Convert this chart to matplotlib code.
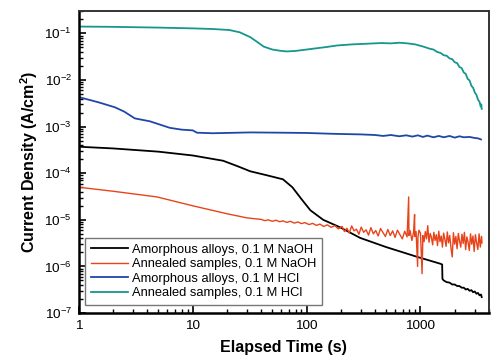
import numpy as np
import matplotlib.pyplot as plt
from matplotlib.ticker import LogLocator, FixedLocator, FixedFormatter, NullFormatter

plt.rcParams['font.family'] = ['Liberation Sans', 'DejaVu Sans']
plt.rcParams['mathtext.fontset'] = 'custom'
plt.rcParams['mathtext.rm'] = 'Liberation Sans'
plt.rcParams['mathtext.it'] = 'Liberation Sans'
plt.rcParams['mathtext.default'] = 'regular'

# Amorphous alloys, 0.1 M NaOH
t_am_naoh = [1, 2, 5, 10, 18.5, 25, 32, 45, 62, 75, 90, 108, 140, 197, 295, 500,
             940, 1500, 1550, 1560, 1600, 1700, 1800, 1900, 2000, 2100, 2200,
             2300, 2400, 2500, 2600, 2700, 2800, 2900, 3000, 3100, 3200, 3300,
             3400, 3450]
j_am_naoh = [3.7e-4, 3.4e-4, 2.9e-4, 2.4e-4, 1.85e-4, 1.4e-4, 1.1e-4, 9e-5,
             7.4e-5, 5e-5, 2.8e-5, 1.6e-5, 1.0e-5, 6.9e-6, 4.1e-6, 2.6e-6,
             1.6e-6, 1.14e-6, 1.1e-6, 5.4e-7, 5.0e-7, 4.6e-7, 4.5e-7, 4.1e-7,
             4.1e-7, 3.8e-7, 3.8e-7, 3.5e-7, 3.5e-7, 3.2e-7, 3.3e-7, 3.0e-7,
             3.1e-7, 2.8e-7, 2.9e-7, 2.6e-7, 2.7e-7, 2.4e-7, 2.5e-7, 2.2e-7]

# Annealed samples, 0.1 M NaOH (values in 1e-6 A/cm2)
t_an_naoh = [1, 2, 4.85, 10, 20, 30, 40, 43, 46, 50, 54, 58, 62, 67, 72, 78, 84,
             90, 97, 105, 113, 122, 131, 141, 152, 164, 177, 190,
             205, 215, 226, 237, 249, 261, 274, 288, 302, 317, 333, 350, 367,
             386, 405, 425, 446, 469, 492, 517, 543, 570, 598, 628, 660, 693,
             727, 763, 788, 792, 810, 841, 870, 888, 892, 915, 944, 950, 970,
             1000, 1033, 1050, 1076, 1103, 1131, 1159, 1188, 1218, 1248, 1279,
             1311, 1344, 1378, 1412, 1448, 1484, 1521, 1559, 1598, 1638, 1679,
             1721, 1764, 1808, 1853, 1900, 1947, 1996, 2046, 2097, 2150, 2203,
             2258, 2315, 2373, 2432, 2493, 2555, 2619, 2684, 2752, 2820, 2891,
             2963, 3037, 3113, 3191, 3271, 3353, 3437, 3470]
j_an_naoh = [50, 41, 31, 20, 13.5, 11, 10.2, 9.6, 10.0, 9.3, 9.8, 9.1, 9.5, 8.8,
             9.3, 8.5, 9.0, 8.3, 8.7, 7.9, 8.4, 7.6, 8.1, 7.2, 7.8, 6.9, 7.5, 6.4,
             7.2, 5.6, 6.6, 5.2, 7.4, 5.8, 6.3, 4.9, 7.0, 5.4, 6.1, 4.7, 6.8,
             5.0, 5.9, 4.5, 6.5, 5.3, 4.4, 6.2, 4.6, 5.8, 4.2, 6.0, 4.8, 3.9,
             5.7, 4.3, 31, 4.6, 5.9, 3.6, 5.4, 13, 4.4, 5.6, 1.0, 4.2, 6.0,
             5.2, 0.7, 4.6, 3.4, 5.6, 3.9, 7.5, 3.3, 5.1, 4.2, 2.9,
             5.4, 3.6, 4.8, 2.8, 5.7, 3.4, 4.5, 2.6, 5.2, 3.8, 2.7,
             5.5, 3.2, 4.6, 2.5, 1.6, 5.3, 3.0, 4.4, 2.4, 5.1, 3.5,
             2.6, 4.9, 3.1, 5.4, 2.3, 4.3, 3.3, 2.2, 5.0, 3.0, 4.5,
             2.1, 4.8, 3.2, 2.3, 5.0, 2.6, 4.4, 3.2]

# Amorphous alloys, 0.1 M HCl (values in 1e-3 A/cm2)
t_am_hcl = [1, 1.5, 2.07, 2.5, 3.1, 4.2, 6.3, 8, 10, 10.9, 15, 32, 60, 100, 171,
            300, 400, 470, 550, 650, 750, 850, 950, 1050, 1150, 1300, 1450,
            1600, 1800, 2000, 2200, 2400, 2700, 3000, 3200, 3400]
j_am_hcl = [4.3, 3.3, 2.6, 2.1, 1.5, 1.3, 0.94, 0.86, 0.83, 0.74, 0.72, 0.75,
            0.74, 0.73, 0.70, 0.68, 0.66, 0.63, 0.66, 0.62, 0.65, 0.61, 0.65,
            0.60, 0.64, 0.59, 0.63, 0.59, 0.63, 0.58, 0.62, 0.59, 0.60, 0.57,
            0.56, 0.53]

# Annealed samples, 0.1 M HCl
t_an_hcl = [1, 2, 5, 10, 15, 21, 26, 32, 37, 42, 50, 60, 67, 80, 100, 123, 150,
            185, 250, 340, 450, 550, 650, 770, 900, 1060, 1200, 1300, 1400, 1500,
            1600, 1700, 1800, 1900, 2000, 2100, 2200, 2300, 2400, 2500, 2600,
            2700, 2800, 2900, 3000, 3100, 3200, 3300, 3380, 3420, 3450]
j_an_hcl = [0.140, 0.138, 0.133, 0.128, 0.124, 0.118, 0.105, 0.083, 0.065,
            0.052, 0.045, 0.042, 0.041, 0.042, 0.045, 0.048, 0.051, 0.055,
            0.058, 0.060, 0.062, 0.061, 0.063, 0.061, 0.058, 0.052, 0.047,
            0.045, 0.040, 0.038, 0.034, 0.033, 0.029, 0.028, 0.024, 0.023,
            0.019, 0.018, 0.0145, 0.0135, 0.0105, 0.0098, 0.0075, 0.0068,
            0.0054, 0.0048, 0.0038, 0.0034, 0.0027, 0.0030, 0.0024]

fig = plt.figure(figsize=(4.99, 3.59), dpi=100)
ax = fig.add_axes([0.158, 0.128, 0.822, 0.841])

ax.plot(t_am_naoh, j_am_naoh, color='black', lw=1.3, label='Amorphous alloys, 0.1 M NaOH')
ax.plot(t_an_naoh, np.array(j_an_naoh) * 1e-6, color='#e8441c', lw=1.0,
        label='Annealed samples, 0.1 M NaOH')
ax.plot(t_am_hcl, np.array(j_am_hcl) * 1e-3, color='#1f47a8', lw=1.3,
        label='Amorphous alloys, 0.1 M HCl')
ax.plot(t_an_hcl, j_an_hcl, color='#16968c', lw=1.3, label='Annealed samples, 0.1 M HCl')

ax.set_xscale('log')
ax.set_yscale('log')
ax.set_xlim(1, 4000)
ax.set_ylim(1e-7, 0.3)

ax.xaxis.set_major_locator(FixedLocator([1, 10, 100, 1000]))
ax.xaxis.set_major_formatter(FixedFormatter(['1', '10', '100', '1000']))
ax.xaxis.set_minor_locator(LogLocator(base=10, subs=np.arange(2, 10)))
ax.xaxis.set_minor_formatter(NullFormatter())
ax.yaxis.set_major_locator(FixedLocator([1e-7, 1e-6, 1e-5, 1e-4, 1e-3, 1e-2, 1e-1]))
ax.yaxis.set_major_formatter(FixedFormatter(['10$^{-7}$', '10$^{-6}$', '10$^{-5}$',
                                             '10$^{-4}$', '10$^{-3}$', '10$^{-2}$',
                                             '10$^{-1}$']))
ax.yaxis.set_minor_locator(LogLocator(base=10, subs=np.arange(2, 10)))
ax.yaxis.set_minor_formatter(NullFormatter())

ax.tick_params(which='major', direction='in', length=5, width=1.2, labelsize=9.7, pad=5)
ax.tick_params(which='minor', direction='in', length=3, width=1)
ax.tick_params(top=False, right=False)

for s in ['left', 'bottom']:
    ax.spines[s].set_linewidth(1.8)
for s in ['top', 'right']:
    ax.spines[s].set_linewidth(1.4)
    ax.spines[s].set_color('#333333')

ax.set_xlabel('Elapsed Time (s)', fontsize=11.5, fontweight='bold', labelpad=6)
ax.set_ylabel('Current Density (A/cm$^{2}$)', fontsize=11.5, fontweight='bold', labelpad=3)

leg = ax.legend(loc='lower left', bbox_to_anchor=(0.015, 0.026), borderaxespad=0,
                fontsize=9.3, fancybox=False, edgecolor='#777777', framealpha=1,
                handlelength=2.9, handletextpad=0.3, labelspacing=0.2,
                borderpad=0.45)
leg.get_frame().set_linewidth(1.0)

fig.savefig('out.png', dpi=100)
